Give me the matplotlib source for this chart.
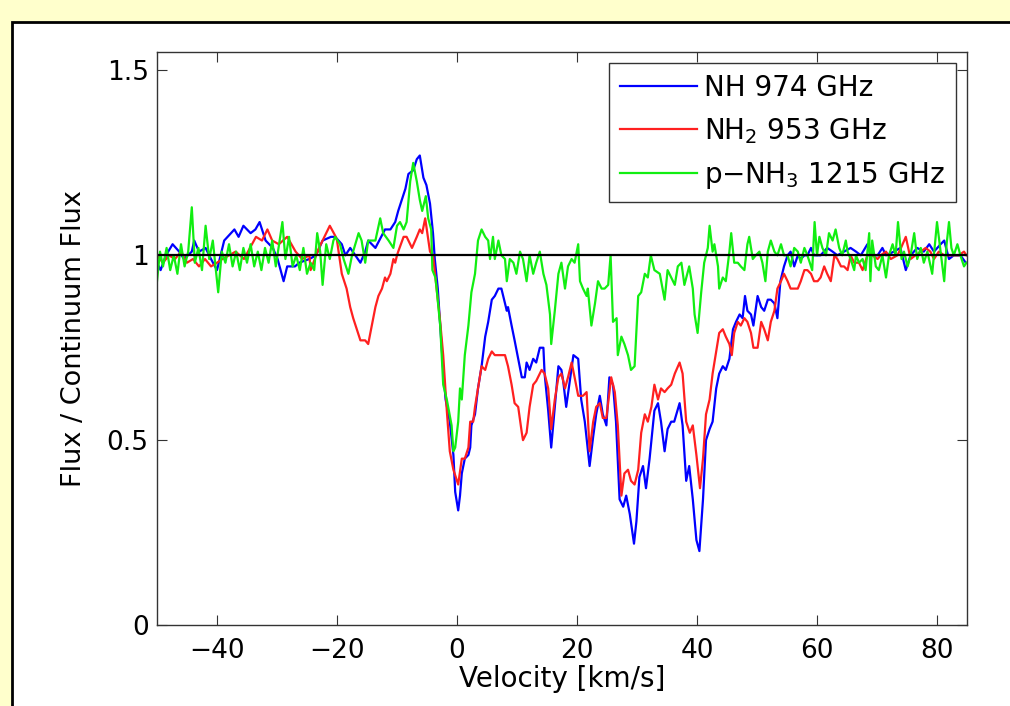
import matplotlib
matplotlib.use("Agg")
import matplotlib.pyplot as plt
from matplotlib.patches import Rectangle

plt.rcParams['font.family'] = ['DejaVu Sans']
plt.rcParams['mathtext.fontset'] = 'dejavusans'
plt.rcParams['mathtext.default'] = 'regular'

# NH 974 GHz (blue)
v_nh = [-50.0, -49.4, -48.5, -47.4, -46.3, -45.5, -44.2, -43.8, -43.0, -41.9, -41.0, -40.0,
        -38.8, -37.1, -36.4, -35.6, -34.4, -33.6, -32.9, -31.9, -30.7, -29.9, -28.9, -28.3,
        -27.0, -26.3, -24.6, -23.5, -22.4, -21.0, -20.3, -19.2, -18.6, -17.8, -16.1, -15.3,
        -14.8, -13.6, -12.0, -11.1, -10.3, -9.8, -9.2, -8.6, -8.1, -7.3, -6.7, -6.2, -5.6,
        -5.1, -4.5, -4.0, -3.7, -3.2, -2.8, -2.3, -1.9, -1.2, -0.6, -0.3, 0.2, 0.5, 0.8, 1.3,
        1.9, 2.2, 2.4, 3.0, 3.5, 4.1, 4.7, 5.2, 5.8, 6.3, 6.9, 7.4, 8.0, 8.3, 8.5, 9.1, 9.6,
        10.2, 10.8, 11.3, 11.6, 12.1, 12.7, 13.2, 13.8, 14.4, 14.6, 15.2, 15.7, 16.3, 16.9,
        17.4, 17.7, 18.2, 18.8, 19.4, 20.2, 20.7, 21.3, 22.1, 22.7, 23.2, 23.8, 24.3, 24.9,
        25.4, 26.0, 26.5, 27.1, 27.7, 28.2, 28.8, 29.5, 29.9, 30.4, 31.0, 31.5, 32.1, 32.9,
        33.5, 34.0, 34.6, 35.1, 35.7, 36.2, 37.1, 37.6, 38.2, 38.7, 39.3, 39.9, 40.4, 41.0,
        41.5, 42.1, 42.6, 43.2, 43.7, 44.3, 44.8, 45.4, 46.0, 46.5, 47.1, 47.6, 48.0, 48.4,
        49.0, 49.4, 50.1, 50.7, 51.2, 51.8, 52.3, 52.9, 53.4, 53.9, 54.5, 55.1, 55.6, 56.2,
        56.8, 57.3, 57.9, 58.4, 59.0, 59.5, 60.6, 61.7, 62.6, 63.4, 64.5, 65.6, 66.5, 67.3,
        68.4, 69.2, 70.1, 70.9, 71.5, 72.8, 73.9, 74.8, 75.6, 76.7, 77.8, 78.7, 79.5, 80.6,
        81.2, 82.0, 82.8, 83.9, 84.8]
f_nh = [0.98, 0.96, 1.00, 1.03, 1.01, 0.99, 1.01, 1.04, 1.01, 1.02, 0.99, 0.96,
        1.04, 1.07, 1.05, 1.08, 1.06, 1.07, 1.09, 1.04, 1.02, 0.99, 0.93, 0.97,
        0.97, 0.98, 0.99, 1.00, 1.04, 1.05, 1.05, 1.03, 1.00, 1.02, 0.98, 1.01,
        1.04, 1.02, 1.07, 1.07, 1.09, 1.12, 1.15, 1.18, 1.22, 1.23, 1.26, 1.27, 1.21,
        1.19, 1.14, 1.06, 0.99, 0.91, 0.81, 0.69, 0.61, 0.55, 0.46, 0.36, 0.31, 0.35, 0.41, 0.45,
        0.46, 0.48, 0.54, 0.57, 0.64, 0.70, 0.78, 0.82, 0.88, 0.89, 0.91, 0.91, 0.87, 0.85, 0.86, 0.81, 0.77,
        0.72, 0.67, 0.67, 0.71, 0.69, 0.72, 0.71, 0.75, 0.75, 0.68, 0.58, 0.48, 0.59, 0.70,
        0.69, 0.66, 0.59, 0.66, 0.73, 0.72, 0.61, 0.55, 0.43, 0.51, 0.57, 0.62, 0.57, 0.54,
        0.67, 0.65, 0.55, 0.34, 0.32, 0.35, 0.30, 0.22, 0.28, 0.40, 0.43, 0.37, 0.45, 0.58,
        0.60, 0.55, 0.47, 0.53, 0.55, 0.55, 0.60, 0.54, 0.39, 0.43, 0.34, 0.23, 0.20, 0.34,
        0.50, 0.53, 0.55, 0.64, 0.68, 0.70, 0.69, 0.72, 0.80, 0.82, 0.84, 0.83, 0.89, 0.85,
        0.84, 0.81, 0.89, 0.86, 0.85, 0.88, 0.88, 0.87, 0.83, 0.93, 0.97, 1.00, 1.01, 0.97,
        1.00, 0.99, 1.00, 1.00, 1.02, 1.00, 1.00, 1.02, 1.01, 1.00, 1.01, 1.02, 1.01, 1.00,
        1.03, 1.00, 1.00, 1.02, 1.00, 1.01, 1.02, 0.96, 1.00, 1.02, 1.01, 1.03, 1.01, 1.03,
        1.04, 0.99, 1.00, 1.00, 0.98]

# NH2 953 GHz (red)
v_nh2 = [-50.0, -49.0, -48.0, -47.0, -46.0, -45.0, -44.0, -43.0, -42.0, -41.0, -40.0, -39.1,
         -36.9, -35.5, -34.5, -33.5, -32.5, -31.6, -30.8, -29.7, -28.3, -26.9, -25.8, -24.6,
         -24.4, -23.0, -21.2, -20.2, -20.0, -19.2, -18.4, -17.8, -17.3, -16.7, -16.1, -15.3,
         -14.8, -14.2, -13.6, -13.1, -12.5, -12.0, -11.7, -11.1, -10.6, -10.3, -10.0, -9.8,
         -8.9, -8.4, -7.5, -6.7, -6.2, -5.8, -5.3, -4.5, -4.0, -3.4, -2.8, -2.3, -1.7, -1.2,
         -0.6, 0.0, 0.2, 0.8, 1.3, 1.9, 2.2, 2.7, 3.0, 3.5, 4.1, 4.7, 5.2, 5.8, 6.3, 6.9, 7.4,
         8.0, 8.5, 9.1, 9.6, 10.2, 10.8, 11.0, 11.6, 12.1, 12.7, 13.2, 14.1, 14.6, 15.2, 15.7,
         16.3, 16.9, 17.4, 18.0, 18.5, 19.1, 19.6, 20.2, 21.0, 21.6, 22.1, 22.7, 23.2, 23.8,
         24.3, 24.9, 25.7, 26.3, 26.8, 27.4, 27.9, 28.5, 29.0, 29.6, 30.2, 30.7, 31.3, 31.8,
         32.4, 32.9, 33.5, 34.0, 34.6, 35.1, 35.7, 36.3, 37.1, 37.6, 38.2, 38.8, 39.3, 39.9,
         40.5, 41.0, 41.5, 42.1, 42.6, 43.2, 43.7, 44.3, 44.8, 45.4, 45.8, 46.2, 46.8, 47.3,
         47.9, 48.4, 49.0, 49.4, 50.1, 50.7, 51.2, 51.8, 52.3, 52.9, 53.4, 54.0, 54.5, 55.1,
         55.6, 56.2, 56.8, 57.3, 57.9, 58.4, 59.0, 59.5, 60.1, 60.6, 61.2, 61.7, 62.3, 62.9,
         63.4, 64.0, 64.5, 65.1, 65.6, 66.2, 67.0, 67.6, 68.4, 69.2, 70.1, 70.6, 71.5, 72.3,
         73.4, 74.0, 74.8, 75.6, 76.4, 77.3, 78.1, 78.9, 79.5, 80.3, 81.2, 82.0, 82.8, 83.6,
         84.5, 84.9]
f_nh2 = [1.00, 0.98, 1.00, 0.99, 1.01, 0.98, 0.99, 0.97, 0.99, 0.97, 0.98, 0.99,
         1.01, 0.99, 1.02, 1.05, 1.04, 1.07, 1.04, 1.03, 1.05, 1.01, 0.99, 1.00,
         0.96, 1.02, 1.08, 1.05, 1.04, 0.95, 0.91, 0.86, 0.83, 0.80, 0.77, 0.77,
         0.76, 0.81, 0.86, 0.89, 0.91, 0.94, 0.93, 0.95, 0.99, 0.98, 1.00, 1.01,
         1.05, 1.05, 1.02, 1.05, 1.07, 1.06, 1.10, 1.01, 1.00, 0.91, 0.82, 0.73, 0.58, 0.47,
         0.42, 0.39, 0.38, 0.45, 0.45, 0.48, 0.55, 0.55, 0.59, 0.64, 0.70, 0.69, 0.72, 0.74, 0.73, 0.73, 0.73,
         0.73, 0.70, 0.65, 0.60, 0.59, 0.52, 0.50, 0.52, 0.59, 0.65, 0.66, 0.69, 0.68, 0.64, 0.53,
         0.61, 0.67, 0.68, 0.64, 0.67, 0.71, 0.67, 0.62, 0.62, 0.63, 0.47, 0.55, 0.59, 0.60,
         0.56, 0.56, 0.67, 0.63, 0.54, 0.35, 0.41, 0.42, 0.39, 0.38, 0.42, 0.52, 0.57, 0.55,
         0.59, 0.65, 0.61, 0.64, 0.63, 0.64, 0.65, 0.68, 0.71, 0.68, 0.55, 0.52, 0.54, 0.46,
         0.37, 0.45, 0.57, 0.61, 0.68, 0.74, 0.79, 0.80, 0.78, 0.76, 0.73, 0.79, 0.82, 0.81,
         0.83, 0.82, 0.79, 0.75, 0.75, 0.82, 0.80, 0.77, 0.82, 0.85, 0.91, 0.93, 0.95, 0.93,
         0.91, 0.91, 0.91, 0.93, 0.96, 0.96, 0.95, 0.93, 0.93, 0.94, 0.97, 0.95, 0.93, 1.00,
         0.99, 0.97, 0.97, 0.96, 1.00, 0.98, 0.98, 0.96, 1.00, 1.00, 0.99, 1.00, 1.01, 0.99,
         1.00, 1.02, 1.05, 0.99, 1.00, 1.01, 1.02, 1.01, 0.99, 1.01, 1.00, 1.00, 1.00, 1.00,
         1.01, 1.00]

# p-NH3 1215 GHz (green)
v_nh3 = [-50.0, -49.5, -49.0, -48.4, -47.8, -47.2, -46.6, -46.0, -45.4, -44.8, -44.2, -43.7,
         -43.1, -42.5, -41.9, -41.3, -40.7, -39.8, -39.2, -38.6, -38.0, -37.4, -36.8, -36.2,
         -35.6, -35.0, -34.4, -33.8, -33.2, -32.6, -32.0, -31.4, -30.8, -30.2, -29.1, -28.6,
         -28.0, -27.4, -26.8, -26.2, -25.6, -25.0, -24.4, -23.8, -23.3, -22.8, -22.4, -21.8,
         -21.2, -20.6, -20.3, -19.5, -18.9, -18.1, -17.5, -16.4, -15.9, -15.3, -14.8, -13.6,
         -12.8, -12.3, -11.4, -10.6, -10.0, -9.5, -8.9, -8.4, -7.8, -7.3, -6.7, -6.2, -5.8,
         -5.2, -4.8, -4.3, -4.1, -3.6, -3.4, -2.8, -2.3, -1.7, -0.9, -0.6, -0.3, 0.2, 0.5, 0.8,
         1.3, 1.9, 2.4, 3.0, 3.5, 4.1, 4.7, 5.2, 5.5, 6.0, 6.3, 6.9, 7.4, 8.0, 8.3, 8.8, 9.4,
         9.9, 10.5, 11.0, 11.6, 12.1, 12.7, 13.2, 13.8, 14.4, 14.9, 15.5, 15.7, 16.3, 16.9,
         17.4, 18.0, 18.5, 19.1, 19.6, 20.2, 20.5, 21.0, 21.6, 21.8, 22.4, 23.0, 23.5, 24.1,
         24.6, 25.2, 25.6, 26.0, 26.6, 26.8, 27.4, 27.9, 28.5, 29.0, 29.6, 30.2, 30.7, 31.3,
         31.8, 32.3, 32.9, 33.8, 34.6, 35.1, 35.7, 36.3, 36.8, 37.4, 37.9, 38.7, 39.3, 39.6,
         40.1, 40.7, 41.2, 41.8, 42.1, 42.6, 42.9, 43.5, 43.7, 44.3, 44.8, 45.4, 45.7, 46.2,
         46.8, 47.3, 47.9, 48.4, 48.7, 49.3, 49.8, 50.4, 50.9, 51.4, 51.8, 52.3, 52.9, 53.4,
         54.0, 54.5, 55.1, 55.6, 56.2, 56.8, 57.3, 57.9, 58.4, 59.2, 59.6, 60.0, 60.4, 60.9,
         61.5, 62.0, 62.6, 63.1, 63.7, 64.2, 64.8, 65.1, 65.6, 66.2, 66.5, 67.0, 67.6, 68.1,
         68.7, 68.9, 69.2, 69.8, 70.3, 70.9, 71.5, 72.0, 72.6, 73.1, 73.5, 74.1, 74.5, 75.1,
         75.6, 76.2, 76.7, 77.3, 77.8, 78.4, 79.2, 80.0, 80.6, 81.2, 81.6, 82.0, 82.4, 82.8,
         83.4, 83.9, 84.5, 84.9]
f_nh3 = [0.93, 1.01, 0.97, 1.02, 0.96, 1.00, 0.95, 1.03, 0.97, 1.01, 1.13, 0.98,
         1.02, 0.96, 1.08, 0.99, 1.04, 0.90, 1.01, 0.98, 1.03, 0.97, 1.01, 0.96,
         1.02, 0.98, 1.03, 0.97, 1.01, 0.96, 1.02, 0.98, 1.04, 0.97, 1.09, 0.99,
         1.05, 0.97, 1.00, 0.96, 1.02, 0.95, 0.98, 0.96, 1.06, 1.01, 0.92, 1.03,
         0.99, 1.04, 1.05, 1.03, 0.99, 0.95, 1.00, 1.06, 1.04, 0.98, 1.04, 1.04,
         1.10, 1.06, 1.04, 1.02, 1.08, 1.09, 1.07, 1.09, 1.20, 1.25, 1.20, 1.15, 1.12,
         1.16, 1.10, 1.07, 0.96, 0.94, 0.91, 0.81, 0.65, 0.61, 0.54, 0.47, 0.48, 0.55, 0.64, 0.61,
         0.73, 0.81, 0.90, 0.95, 1.04, 1.07, 1.05, 1.04, 0.99, 1.05, 0.99, 1.04, 1.00, 0.99, 0.93, 0.99, 0.98,
         0.95, 1.01, 0.99, 0.93, 1.00, 0.95, 0.98, 1.01, 0.95, 0.92, 0.84, 0.76, 0.85, 0.95,
         0.98, 0.91, 0.97, 0.99, 0.98, 1.03, 0.93, 0.91, 0.89, 0.91, 0.81, 0.87, 0.93, 0.91,
         0.91, 0.92, 1.00, 0.82, 0.83, 0.73, 0.78, 0.76, 0.73, 0.69, 0.70, 0.89, 0.90, 0.95,
         0.94, 1.00, 0.96, 0.95, 0.88, 0.96, 0.94, 0.92, 0.97, 0.98, 0.92, 0.97, 0.91, 0.84,
         0.79, 0.90, 0.98, 1.02, 1.08, 1.01, 1.03, 0.97, 0.91, 0.94, 0.93, 1.01, 1.06, 0.98,
         0.98, 0.97, 0.96, 1.03, 1.05, 0.99, 1.00, 1.01, 0.98, 0.93, 1.01, 1.04, 1.01, 1.00,
         1.03, 1.00, 1.00, 0.97, 1.02, 1.01, 0.98, 1.02, 1.00, 0.96, 1.09, 1.00, 1.05, 1.02,
         1.00, 1.06, 1.04, 1.07, 1.02, 1.00, 1.04, 1.01, 0.99, 0.96, 1.00, 0.98, 0.99, 0.96,
         1.06, 0.93, 1.04, 0.97, 0.96, 1.00, 0.94, 1.00, 1.03, 1.00, 1.09, 0.99, 1.01, 0.97,
         1.00, 1.06, 0.99, 1.02, 0.98, 1.01, 0.95, 1.09, 1.01, 0.93, 1.03, 1.09, 1.02, 1.00,
         1.03, 1.00, 0.97, 0.98]

labels = ['NH 974 GHz', 'NH$_2$ 953 GHz', 'p$-$NH$_3$ 1215 GHz']

fig = plt.figure(figsize=(10.1, 7.06), dpi=100, facecolor='#FFFFCC')
# white panel with a dark frame, drawn under the axes
fig.patches.append(Rectangle((12 / 1010, -0.05), 1.1, (706 - 22) / 706 + 0.05,
                             transform=fig.transFigure, facecolor='white',
                             edgecolor='black', linewidth=2, zorder=-10))

ax = fig.add_axes([157 / 1010, (706 - 625) / 706, 810 / 1010, 573 / 706])
ax.set_zorder(5)
ax.plot(v_nh, f_nh, color='#0000ff', lw=1.6, label=labels[0])
ax.plot(v_nh2, f_nh2, color='#ff2020', lw=1.6, label=labels[1])
ax.plot(v_nh3, f_nh3, color='#11ee11', lw=1.6, label=labels[2])
ax.axhline(1.0, color='black', lw=1.6)

ax.set_xlim(-50, 85)
ax.set_ylim(0, 1.55)
ax.set_xticks([-40, -20, 0, 20, 40, 60, 80])
ax.set_yticks([0, 0.5, 1, 1.5])
ax.set_yticklabels(['0', '0.5', '1', '1.5'])
ax.tick_params(direction='in', length=7, width=0.8, top=True, right=True,
               labelsize=19, pad=6, color='#333333')
ax.tick_params(axis='x', pad=9)
for s in ax.spines.values():
    s.set_color('#333333')
    s.set_linewidth(1.0)

ax.set_xlabel('Velocity [km/s]', fontsize=20, labelpad=1)
ax.set_ylabel('Flux / Continuum Flux', fontsize=19.5, labelpad=14)

leg = ax.legend(loc='upper right', fontsize=20, handlelength=2.75, handletextpad=0.25,
                borderaxespad=0.4, labelspacing=0.5, fancybox=False, framealpha=1,
                edgecolor='#333333', borderpad=0.4)
leg.get_frame().set_linewidth(1.0)

fig.savefig('out.png', dpi=100, facecolor=fig.get_facecolor())
